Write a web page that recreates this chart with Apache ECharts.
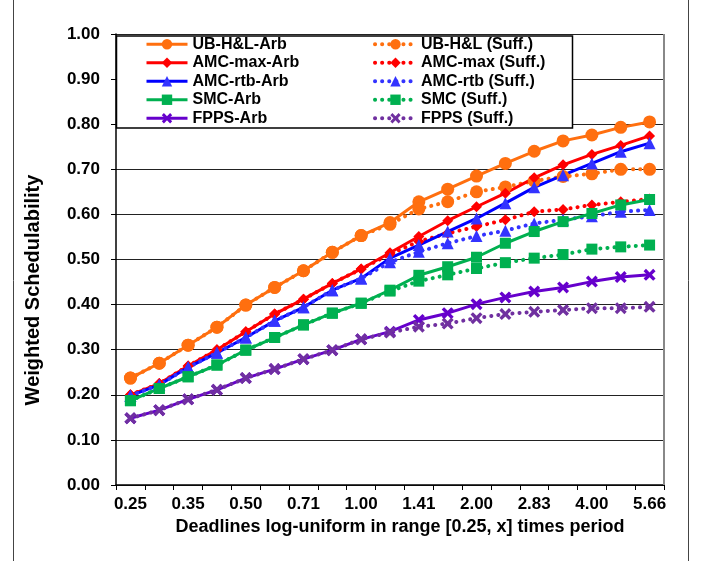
<!DOCTYPE html>
<html>
<head>
<meta charset="utf-8">
<script src="https://cdn.jsdelivr.net/npm/echarts@6/dist/echarts.min.js"></script>
<style>
  html, body { margin: 0; padding: 0; background: #fff; }
  #chart { width: 704px; height: 561px; }
</style>
</head>
<body>
<div id="chart"></div>
<script>
// x categories (deadline range upper bound)
var categories = ['0.25', '0.30', '0.35', '0.42', '0.50', '0.59', '0.71', '0.84', '1.00', '1.19',
                  '1.41', '1.68', '2.00', '2.38', '2.83', '3.36', '4.00', '4.76', '5.66'];

var ubArb    = [0.237, 0.270, 0.310, 0.350, 0.399, 0.438, 0.475, 0.516, 0.553, 0.582, 0.628, 0.656, 0.685, 0.713, 0.740, 0.763, 0.776, 0.793, 0.805];
var ubSuff   = [0.237, 0.270, 0.310, 0.350, 0.399, 0.438, 0.475, 0.516, 0.553, 0.578, 0.612, 0.628, 0.650, 0.661, 0.674, 0.684, 0.690, 0.700, 0.700];
var maxArb   = [0.200, 0.225, 0.264, 0.300, 0.340, 0.379, 0.412, 0.447, 0.479, 0.515, 0.551, 0.586, 0.617, 0.647, 0.681, 0.710, 0.733, 0.753, 0.774];
var maxSuff  = [0.200, 0.225, 0.264, 0.300, 0.340, 0.379, 0.412, 0.447, 0.479, 0.512, 0.540, 0.558, 0.573, 0.588, 0.606, 0.611, 0.621, 0.628, 0.634];
var rtbArb   = [0.198, 0.222, 0.261, 0.293, 0.327, 0.364, 0.394, 0.432, 0.458, 0.503, 0.532, 0.562, 0.591, 0.625, 0.660, 0.687, 0.713, 0.739, 0.758];
var rtbSuff  = [0.198, 0.222, 0.261, 0.293, 0.327, 0.364, 0.394, 0.432, 0.458, 0.494, 0.517, 0.536, 0.552, 0.564, 0.580, 0.588, 0.596, 0.606, 0.610];
var smcArb   = [0.187, 0.214, 0.240, 0.266, 0.299, 0.327, 0.355, 0.381, 0.403, 0.432, 0.465, 0.484, 0.505, 0.536, 0.562, 0.584, 0.602, 0.621, 0.633];
var smcSuff  = [0.187, 0.214, 0.240, 0.266, 0.299, 0.327, 0.355, 0.381, 0.403, 0.430, 0.452, 0.466, 0.480, 0.493, 0.503, 0.511, 0.523, 0.528, 0.532];
var fppsArb  = [0.148, 0.166, 0.190, 0.211, 0.237, 0.257, 0.279, 0.299, 0.323, 0.340, 0.366, 0.381, 0.401, 0.416, 0.429, 0.438, 0.451, 0.461, 0.466];
var fppsSuff = [0.148, 0.166, 0.190, 0.211, 0.237, 0.257, 0.279, 0.299, 0.323, 0.338, 0.351, 0.358, 0.370, 0.379, 0.384, 0.388, 0.392, 0.392, 0.395];

var xSymbol = 'path://M2,0 L5,3 L8,0 L10,2 L7,5 L10,8 L8,10 L5,7 L2,10 L0,8 L3,5 L0,2 Z';
var dots = [0.1, 7];

function line(name, data, color, symbol, size, dotted, markColor) {
    return {
        name: name,
        type: 'line',
        data: data,
        symbol: symbol,
        symbolSize: size,
        showAllSymbol: true,
        itemStyle: { color: markColor || color },
        lineStyle: dotted
            ? { color: color, width: 4, type: dots, cap: 'round' }
            : { color: color, width: 3 },
        emphasis: { disabled: true }
    };
}

var series = [
    line('UB-H&L-Arb', ubArb, '#FF6F0F', 'circle', 13, false),
    line('UB-H&L (Suff.)', ubSuff, '#FF6F0F', 'circle', 13, true),
    line('AMC-max-Arb', maxArb, '#FF0000', 'diamond', 11, false),
    line('AMC-max (Suff.)', maxSuff, '#FF0000', 'diamond', 11, true),
    line('AMC-rtb-Arb', rtbArb, '#0000FF', 'triangle', 12, false, '#3333FF'),
    line('AMC-rtb (Suff.)', rtbSuff, '#3333FF', 'triangle', 12, true),
    line('SMC-Arb', smcArb, '#00B050', 'rect', 11, false),
    line('SMC (Suff.)', smcSuff, '#00B050', 'rect', 11, true),
    line('FPPS-Arb', fppsArb, '#6600CC', xSymbol, 12, false),
    line('FPPS (Suff.)', fppsSuff, '#7030A0', xSymbol, 12, true)
];

var legendText = { fontFamily: 'Liberation Sans, Arial', fontWeight: 'bold', fontSize: 16, color: '#000', lineHeight: 18.5 };

var chart = echarts.init(document.getElementById('chart'));
chart.setOption({
    animation: false,
    textStyle: { fontFamily: 'Liberation Sans, Arial' },
    grid: { left: 116, top: 34, right: 40, bottom: 76 },
    legend: [{
        orient: 'vertical', left: 145, top: 35, padding: 0, itemGap: 0,
        itemWidth: 41, itemHeight: 13, selectedMode: false, textStyle: legendText,
        lineStyle: { width: 3 },
        data: ['UB-H&L-Arb', 'AMC-max-Arb', 'AMC-rtb-Arb', 'SMC-Arb', 'FPPS-Arb']
    }, {
        orient: 'vertical', left: 373, top: 35, padding: 0, itemGap: 0,
        itemWidth: 41, itemHeight: 13, selectedMode: false, textStyle: legendText,
        lineStyle: { width: 4 },
        data: ['UB-H&L (Suff.)', 'AMC-max (Suff.)', 'AMC-rtb (Suff.)', 'SMC (Suff.)', 'FPPS (Suff.)']
    }],
    xAxis: {
        type: 'category',
        data: categories,
        boundaryGap: true,
        name: 'Deadlines log-uniform in range [0.25, x] times period',
        nameLocation: 'middle',
        nameGap: 33,
        nameTextStyle: { fontWeight: 'bold', fontSize: 18, color: '#000', padding: [0, 0, 0, 20] },
        axisLine: { lineStyle: { color: '#000', width: 1.5 } },
        axisTick: { show: true, interval: 0, length: 5, lineStyle: { color: '#000' } },
        axisLabel: { interval: 1, margin: 11, fontWeight: 'bold', fontSize: 17, color: '#000' },
        splitLine: { show: false }
    },
    yAxis: {
        type: 'value',
        min: 0, max: 1, interval: 0.1,
        axisLine: { show: true, lineStyle: { color: '#000', width: 1.5 } },
        axisTick: { show: true, length: 5, lineStyle: { color: '#000' } },
        axisLabel: {
            margin: 16, fontWeight: 'bold', fontSize: 17, color: '#000',
            formatter: function (v) { return v.toFixed(2); }
        },
        splitLine: { lineStyle: { color: '#222', width: 1 } }
    },
    graphic: [
        { type: 'line', shape: { x1: 13.5, y1: 0, x2: 13.5, y2: 561 }, style: { stroke: '#444', lineWidth: 1 } },
        { type: 'line', shape: { x1: 688.5, y1: 0, x2: 688.5, y2: 561 }, style: { stroke: '#444', lineWidth: 1 } },
        { type: 'line', shape: { x1: 664, y1: 34, x2: 664, y2: 485 }, style: { stroke: '#888', lineWidth: 2 }, z: 1 },
        { type: 'rect', shape: { x: 116.5, y: 36, width: 456, height: 92 }, style: { fill: '#fff', stroke: '#000', lineWidth: 1.5 }, z: 3 },
        {
            type: 'text', x: 33, y: 290, rotation: Math.PI / 2,
            style: { text: 'Weighted Schedulability', fontFamily: 'Liberation Sans, Arial', fontWeight: 'bold', fontSize: 20, fill: '#000', align: 'center', verticalAlign: 'middle' }
        }
    ],
    series: series
});
</script>
</body>
</html>
